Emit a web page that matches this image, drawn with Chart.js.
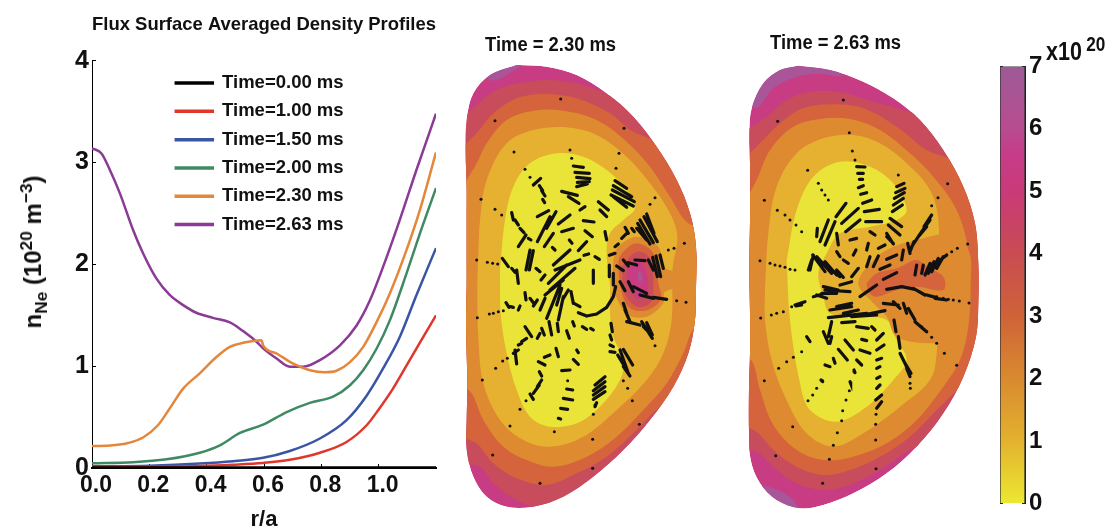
<!DOCTYPE html>
<html>
<head>
<meta charset="utf-8">
<title>Flux Surface Averaged Density Profiles</title>
<script src="https://cdn.jsdelivr.net/npm/chart.js@4/dist/chart.umd.min.js"></script>
<style>
  html, body { margin: 0; padding: 0; background: #fff; }
  body { position: relative; width: 1112px; height: 528px; overflow: hidden; }
  canvas { position: absolute; }
  .txt { position: absolute; white-space: nowrap; color: #111; font-family: "Liberation Sans", sans-serif; font-weight: bold; transform-origin: left center; }
  .txt sub, .txt sup { font-size: 72%; line-height: 0; }
</style>
</head>
<body>
<canvas id="profiles" width="450" height="528" style="left:0;top:0"></canvas>
<canvas id="shot230" width="260" height="500" style="left:450px;top:20px"></canvas>
<canvas id="shot263" width="260" height="500" style="left:730px;top:20px"></canvas>
<canvas id="colorbar" width="70" height="480" style="left:985px;top:45px"></canvas>
<div class="txt" style="left:485px;top:33px;font-size:20px;transform:scaleX(.92)">Time = 2.30 ms</div>
<div class="txt" style="left:770px;top:31px;font-size:20px;transform:scaleX(.92)">Time = 2.63 ms</div>
<div class="txt" style="left:1046px;top:37px;font-size:25px;transform:scaleX(.86)">x10<sup style="margin-left:5px;font-size:80%">20</sup></div>
<div class="txt" style="left:33px;top:252px;font-size:24px;transform-origin:center;transform:translate(-50%,-50%) rotate(-90deg)">n<sub>Ne</sub> (10<sup>20</sup> m<sup>−3</sup>)</div>
<script>
const legendNames = ['Time=0.00 ms', 'Time=1.00 ms', 'Time=1.50 ms', 'Time=2.00 ms', 'Time=2.30 ms', 'Time=2.63 ms'];
const lineColors = ['#000000', '#e0372c', '#3b55a5', '#3f8a63', '#e5873a', '#8b3a96'];
const xTicks = [0, 0.2, 0.4, 0.6, 0.8, 1.0];
const yTicks = [0, 1, 2, 3, 4];
const barTicks = [0, 1, 2, 3, 4, 5, 6, 7];

// r/a and density (10^20)
const r000 = [0, 0.3, 0.6, 0.9, 1.2];
const n000 = [0.004, 0.004, 0.004, 0.004, 0.004];
const r100 = [0, 0.376, 0.492, 0.597, 0.69, 0.795, 0.888, 0.958, 1.0, 1.05, 1.1, 1.15, 1.2];
const n100 = [0.007, 0.02, 0.033, 0.05, 0.08, 0.15, 0.256, 0.42, 0.575, 0.78, 1.02, 1.26, 1.50];
const r150 = [0, 0.2, 0.376, 0.492, 0.597, 0.69, 0.795, 0.888, 0.958, 1.016, 1.074, 1.132, 1.2];
const n150 = [0.016, 0.023, 0.043, 0.066, 0.10, 0.167, 0.29, 0.47, 0.71, 0.98, 1.29, 1.70, 2.16];
const r200 = [0, 0.143, 0.26, 0.376, 0.446, 0.516, 0.597, 0.679, 0.76, 0.841, 0.90, 0.946, 0.993, 1.039, 1.097, 1.144, 1.2];
const n200 = [0.046, 0.056, 0.085, 0.15, 0.223, 0.344, 0.426, 0.55, 0.64, 0.70, 0.813, 0.96, 1.174, 1.45, 1.91, 2.305, 2.75];
const r230 = [0, 0.073, 0.126, 0.178, 0.23, 0.271, 0.318, 0.376, 0.434, 0.481, 0.527, 0.591, 0.597, 0.644, 0.702, 0.76, 0.812, 0.853, 0.90, 0.946, 0.993, 1.039, 1.097, 1.144, 1.2];
const n230 = [0.215, 0.223, 0.246, 0.30, 0.42, 0.585, 0.78, 0.93, 1.09, 1.19, 1.23, 1.255, 1.205, 1.125, 1.025, 0.96, 0.94, 0.955, 1.04, 1.19, 1.435, 1.715, 2.14, 2.535, 3.10];
const r263 = [0, 0.033, 0.062, 0.097, 0.143, 0.178, 0.225, 0.271, 0.318, 0.364, 0.422, 0.481, 0.527, 0.574, 0.597, 0.644, 0.69, 0.737, 0.795, 0.865, 0.923, 0.97, 1.016, 1.074, 1.132, 1.2];
const n263 = [3.14, 3.09, 2.93, 2.70, 2.34, 2.11, 1.86, 1.70, 1.60, 1.525, 1.475, 1.43, 1.345, 1.24, 1.175, 1.075, 0.995, 0.995, 1.06, 1.205, 1.40, 1.65, 1.98, 2.44, 2.93, 3.48];

// contour level colours, 0 upward
const levelColors = ['#e9e437', '#e6b130', '#dd8a30', '#d5633c', '#c94c5c', '#c73c82', '#a8559a'];

// 2.30 ms: contour bands, outermost first, [R, Z] in picture units. a5 is the plasma edge, the rest get clipped to it
const a5 = [[200,135],[290,140],[380,165],[470,220],[550,290],[620,380],[680,480],[720,580],[738,680],[738,800],[735,900],[715,1000],[670,1100],[600,1200],[520,1290],[430,1370],[340,1430],[250,1460],[170,1460],[110,1430],[70,1370],[50,1290],[50,1200],[52,1100],[50,1000],[48,900],[50,800],[50,700],[50,600],[50,500],[47,400],[50,300],[70,220],[120,165],[200,135]];
const a6 = [[100,165],[170,125],[225,125],[190,152],[130,182],[100,165]];
const a4 = [[20,310],[90,245],[150,205],[210,188],[300,180],[400,195],[470,222],[560,270],[700,450],[790,700],[790,900],[700,1150],[500,1340],[300,1465],[200,1440],[130,1390],[90,1340],[20,1320],[0,800],[20,310]];
const a3 = [[20,400],[80,340],[130,280],[200,235],[280,222],[380,235],[480,280],[540,330],[620,370],[720,500],[800,700],[800,900],[720,1100],[625,1165],[560,1230],[470,1310],[380,1360],[290,1395],[200,1375],[130,1330],[80,1270],[20,1235],[0,800],[20,400]];
const a2 = [[20,530],[80,430],[110,370],[170,300],[250,272],[340,272],[440,300],[530,365],[600,440],[660,530],[715,610],[800,640],[800,900],[733,925],[700,1000],[650,1090],[580,1170],[500,1250],[410,1310],[310,1340],[230,1320],[160,1280],[100,1200],[65,1120],[20,1075],[0,800],[20,530]];
const a1 = [[85,700],[90,600],[110,480],[170,370],[250,330],[350,322],[440,345],[530,410],[600,490],[660,580],[682,650],[668,745],[665,900],[640,1000],[590,1080],[500,1170],[400,1250],[300,1280],[220,1260],[150,1200],[100,1090],[85,950],[82,800],[85,700]];
const a0 = [[150,750],[165,600],[190,500],[240,430],[320,400],[400,410],[470,450],[530,510],[555,565],[520,600],[480,640],[470,700],[480,800],[480,880],[490,950],[520,1020],[510,1080],[450,1160],[380,1210],[300,1220],[240,1190],[200,1110],[170,1000],[152,880],[150,750]];
const aBlob2 = [[490,720],[505,680],[560,650],[625,680],[645,745],[760,760],[760,785],[645,815],[640,850],[590,890],[530,882],[490,800],[490,720]];
const aBlob3 = [[505,720],[520,695],[560,670],[610,700],[625,790],[632,840],[585,872],[535,860],[510,790],[505,720]];
const aBlob4 = [[515,740],[560,695],[600,715],[610,800],[600,850],[560,860],[525,820],[515,740]];
const aBlob5 = [[530,745],[570,725],[590,760],[590,825],[560,835],[535,790],[530,745]];
const aBlob6 = [[562,775],[568,752],[578,775],[570,785],[562,775]];

// 2.63 ms: same bands
const b5 = [[205,137],[300,150],[400,185],[490,235],[570,300],[640,390],[700,500],[735,610],[745,730],[745,850],[738,950],[700,1070],[640,1180],[560,1280],[470,1360],[370,1420],[280,1455],[210,1465],[140,1440],[90,1390],[62,1320],[57,1240],[57,1100],[60,1000],[60,880],[58,740],[60,600],[60,430],[58,340],[65,265],[100,190],[150,150],[205,137]];
const b6top = [[50,258],[90,180],[150,130],[280,130],[335,168],[270,162],[200,170],[130,205],[85,262],[50,258]];
const b6bottom = [[80,1395],[140,1460],[210,1490],[190,1440],[130,1405],[80,1395]];
const b4 = [[20,350],[110,290],[170,240],[240,215],[340,218],[430,245],[500,265],[590,300],[720,480],[800,700],[800,950],[700,1150],[600,1260],[540,1290],[450,1350],[360,1395],[280,1410],[190,1385],[130,1340],[80,1295],[20,1285],[0,800],[20,350]];
const b3 = [[20,440],[90,370],[150,310],[220,265],[310,253],[400,265],[500,320],[590,390],[680,430],[780,560],[800,800],[780,1000],[700,1090],[620,1170],[540,1250],[450,1310],[360,1350],[280,1365],[200,1340],[130,1290],[85,1240],[20,1190],[0,800],[20,440]];
const b2 = [[20,590],[80,480],[120,390],[190,320],[270,297],[360,297],[450,330],[540,400],[610,470],[680,570],[715,690],[722,800],[715,920],[690,1020],[640,1100],[560,1200],[470,1270],[370,1310],[280,1320],[200,1290],[130,1215],[90,1110],[63,1020],[20,1025],[0,800],[20,590]];
const b1 = [[105,800],[115,640],[140,500],[200,400],[280,355],[370,345],[450,370],[530,430],[600,510],[625,600],[625,800],[620,1000],[600,1080],[510,1160],[400,1240],[310,1280],[230,1240],[165,1130],[125,1020],[105,900],[105,800]];
const b0 = [[170,720],[200,570],[250,470],[330,425],[420,440],[490,490],[530,570],[500,600],[420,620],[330,640],[290,700],[265,760],[280,830],[300,880],[380,890],[470,900],[500,960],[530,1020],[490,1080],[410,1160],[320,1205],[240,1170],[210,1090],[180,900],[170,720]];
const bTongue = [[640,640],[560,660],[490,680],[430,720],[385,790],[430,850],[470,890],[500,950],[610,970],[700,950],[720,800],[715,690],[640,640]];
const bBlob3 = [[410,790],[440,760],[500,745],[560,720],[590,740],[640,770],[640,810],[560,800],[500,810],[440,830],[415,815],[410,790]];

// small field markers and velocity arrows [x1, y1, x2, y2]
const aDots = [[332,237],[135,302],[522,325],[192,396],[360,390],[507,400],[225,448],[93,538],[615,533],[703,670],[672,685],[80,720],[708,847],[680,842],[82,893],[118,882],[615,977],[137,1045],[97,1080],[533,1105],[547,1142],[210,1168],[430,1183],[180,1218],[568,1213],[313,1235],[428,1258],[128,1305],[428,1345],[270,1390],[155,585],[135,568],[240,472],[365,415],[498,445],[600,553],[655,690],[112,727],[128,730],[143,732],[130,880],[145,875],[160,872],[172,1015],[158,1023],[228,1142],[353,1082],[520,1082],[435,1155]];
const aArrows = [[370,438,400,442],[375,457,418,460],[380,472,420,476],[382,487,418,485],[380,500,412,492],[495,482,530,505],[490,497,545,530],[487,510,553,545],[483,525,550,558],[490,530,530,562],[590,582,612,640],[582,590,622,665],[570,600,610,668],[563,610,600,672],[560,625,590,660],[630,705,640,745],[618,708,632,770],[608,712,622,770],[595,720,610,750],[520,720,535,738],[535,728,560,735],[555,720,585,722],[500,738,520,752],[510,785,525,812],[535,785,550,815],[550,800,590,820],[570,825,610,835],[610,832,650,838],[157,715,175,740],[185,745,195,757],[200,750,205,790],[272,475,250,495],[268,497,278,512],[275,512,285,528],[278,538,284,548],[262,590,296,572],[335,514,382,526],[355,530,387,550],[445,545,475,570],[450,570,470,590],[390,570,405,560],[300,590,262,665],[318,575,290,625],[310,640,283,680],[360,585,325,612],[370,625,335,635],[400,602,432,606],[405,632,427,650],[358,660,366,670],[410,665,385,692],[307,682,315,690],[465,635,470,660],[235,655,243,660],[228,645,205,680],[240,690,228,750],[250,692,238,750],[185,578,190,600],[195,600,205,615],[210,625,222,638],[258,745,270,755],[285,765,273,780],[360,690,310,735],[390,720,315,750],[350,735,295,790],[375,745,300,810],[340,780,285,825],[330,795,290,895],[335,805,320,855],[340,830,325,900],[355,810,340,835],[225,818,228,840],[240,835,250,848],[262,840,250,858],[285,835,270,870],[210,858,205,870],[168,848,177,862],[182,860,190,862],[363,815,370,850],[372,850,390,860],[385,878,410,888],[410,888,440,882],[440,882,470,862],[470,862,490,830],[490,830,497,800],[430,750,430,790],[402,706,416,702],[435,710,448,718],[478,706,495,700],[478,735,478,770],[490,760,490,795],[495,680,505,672],[515,655,530,640],[525,622,535,640],[545,625,553,635],[520,850,530,880],[525,870,540,905],[530,905,570,915],[575,905,607,955],[590,908,607,945],[580,920,600,940],[510,990,535,1060],[520,988,548,1035],[503,1005,530,1050],[520,1040,540,1068],[483,910,487,935],[480,945,485,960],[480,975,490,980],[480,995,495,997],[225,920,245,950],[262,955,270,940],[275,925,283,945],[297,905,305,945],[322,910,325,935],[350,932,358,955],[368,905,373,918],[397,920,410,928],[422,925,430,930],[230,955,215,965],[215,970,205,975],[195,990,200,1032],[190,1000,205,990],[265,1025,285,1035],[283,1012,300,1005],[318,985,325,1010],[380,990,385,998],[370,1018,385,1033],[335,1052,360,1050],[350,1107,368,1110],[340,1135,368,1140],[332,1165,353,1168],[325,1195,332,1197],[268,1055,275,1068],[275,1080,262,1100],[268,1095,250,1120],[240,1122,250,1138],[465,1070,435,1095],[465,1085,430,1112],[465,1100,430,1125],[465,1115,430,1138],[440,1148,435,1160]];
const bDots = [[340,240],[143,304],[358,338],[367,393],[653,491],[624,533],[233,451],[103,541],[142,571],[713,672],[682,685],[90,722],[717,849],[688,843],[92,894],[124,885],[643,1000],[680,1036],[146,1045],[103,1082],[541,1105],[234,1142],[188,1220],[438,1183],[437,1213],[322,1238],[437,1260],[310,1276],[137,1307],[298,1318],[438,1346],[278,1390],[338,1172],[335,1202],[348,1140],[358,1112],[372,1055],[278,1082],[260,1105],[248,1125],[375,420],[265,490],[275,510],[285,525],[295,540],[165,585],[180,600],[198,615],[215,635],[120,730],[135,735],[150,738],[165,742],[180,748],[195,750],[140,880],[160,875],[185,860],[170,1025],[190,1012],[215,995],[620,970],[605,952],[590,935],[575,920],[540,1090],[505,465],[605,557],[665,695],[650,705],[670,840],[655,838],[640,835],[620,830]];
const bArrows = [[380,440,405,441],[383,460,400,460],[388,478,398,478],[385,503,400,497],[392,523,410,518],[398,550,425,540],[403,575,448,568],[407,605,455,605],[500,500,522,490],[497,518,525,505],[493,535,523,518],[490,555,520,535],[487,575,517,555],[480,595,515,620],[475,615,510,645],[470,640,490,672],[605,585,582,620],[600,600,575,635],[590,620,565,650],[575,635,555,665],[565,650,545,680],[552,665,540,695],[533,670,540,700],[520,690,515,720],[650,705,625,725],[640,710,620,745],[625,715,605,755],[612,725,595,760],[600,730,585,765],[580,735,575,760],[560,735,555,765],[470,808,515,800],[515,800,555,808],[550,805,585,825],[590,825,620,833],[615,835,650,840],[500,705,470,718],[480,735,450,748],[500,758,460,778],[440,795,390,830],[460,850,505,855],[490,845,510,865],[520,850,530,880],[535,865,555,900],[555,905,590,935],[492,900,498,935],[505,950,510,985],[510,1000,530,1040],[525,1030,543,1060],[530,1045,540,1070],[465,872,400,885],[440,885,365,890],[410,880,295,893],[375,905,335,908],[380,920,415,925],[425,920,435,930],[460,940,440,960],[462,975,440,990],[455,1015,440,1020],[450,1040,440,1045],[450,1070,440,1075],[450,1095,440,1105],[455,1125,437,1140],[455,1145,440,1165],[420,635,435,645],[360,660,380,655],[415,670,410,690],[470,650,490,670],[445,685,465,675],[378,690,370,705],[340,720,355,730],[420,710,410,740],[445,708,430,740],[385,745,365,770],[365,785,330,795],[320,750,340,772],[300,745,330,770],[285,725,320,765],[260,710,305,760],[248,705,285,755],[250,705,240,750],[245,720,235,750],[262,625,260,650],[295,600,270,665],[315,605,285,675],[320,640,325,675],[348,550,318,590],[385,565,335,610],[390,600,347,635],[320,695,330,710],[280,800,325,810],[285,810,360,815],[275,820,320,820],[260,825,290,835],[250,830,300,815],[320,860,365,850],[300,870,365,860],[340,880,385,870],[225,845,195,855],[215,855,198,858],[305,905,295,950],[280,935,295,970],[305,950,300,970],[230,950,240,965],[345,960,370,990],[325,988,352,1020],[395,958,410,962],[390,990,420,1000],[380,1020,395,1035],[310,1015,315,1030],[285,1035,300,1040],[372,1050,375,1058],[360,1085,362,1090],[273,1080,278,1085]];

Chart.defaults.font.family = '"Liberation Sans", sans-serif';
Chart.defaults.font.weight = 'bold';
Chart.defaults.color = '#111';
Chart.defaults.animation = false;

/* Density profiles */
const rows = [[r000, n000], [r100, n100], [r150, n150], [r200, n200], [r230, n230], [r263, n263]];
const moveLegend = {
  id: 'moveLegend',
  afterLayout(chart) {
    chart.legend.left = 166;
    chart.legend.top = 64;
    chart.legend.right = 430;
    chart.legend.bottom = 260;
  },
};
new Chart(document.getElementById('profiles'), {
  type: 'scatter',
  plugins: [moveLegend],
  data: {
    datasets: rows.map((row, i) => ({
      label: legendNames[i],
      data: row[0].map((r, k) => ({ x: r, y: row[1][k] })),
      showLine: true,
      borderColor: lineColors[i],
      backgroundColor: lineColors[i],
      borderWidth: 2.5,
      pointRadius: 0,
      cubicInterpolationMode: 'monotone',
    })),
  },
  options: {
    responsive: false,
    layout: { padding: { right: 14 } },
    plugins: {
      title: {
        display: true,
        text: 'Flux Surface Averaged Density Profiles',
        fullSize: false,
        color: '#111',
        font: { size: 19, weight: 'bold' },
        padding: { top: 13, bottom: 25 },
      },
      legend: {
        position: 'chartArea',
        align: 'start',
        labels: { boxWidth: 37, boxHeight: 1, padding: 9.8, color: '#111', font: { size: 18.5, weight: 'bold' } },
      },
      tooltip: { enabled: false },
    },
    scales: {
      x: {
        type: 'linear',
        min: 0,
        max: 1.2,
        afterBuildTicks: (scale) => { scale.ticks = xTicks.map((v) => ({ value: v })); },
        afterFit: (scale) => { scale.height = 60; },
        grid: { drawOnChartArea: false, tickLength: -4, color: '#000' },
        border: { color: '#000', width: 2 },
        title: { display: true, text: 'r/a', color: '#111', font: { size: 22, weight: 'bold' }, padding: { top: 0, bottom: -5 } },
        ticks: { color: '#111', padding: 8, labelOffset: 4, maxRotation: 0, font: { size: 23, weight: 'bold' }, callback: (v) => v.toFixed(1) },
      },
      y: {
        min: 0,
        max: 4,
        afterBuildTicks: (scale) => { scale.ticks = yTicks.map((v) => ({ value: v })); },
        afterFit: (scale) => { scale.width = 92; },
        grid: { drawOnChartArea: false, tickLength: -4, color: '#000' },
        border: { color: '#000', width: 1 },
        ticks: { color: '#111', padding: 7, font: { size: 25, weight: 'bold' } },
      },
    },
  },
});

/* Poloidal density maps */
function band(points, color) {
  return {
    data: points.map((p) => ({ x: p[0], y: p[1] })),
    showLine: true,
    fill: 'shape',
    tension: 0.35,
    borderWidth: 0,
    borderColor: 'rgba(0,0,0,0)',
    backgroundColor: color,
    pointRadius: 0,
  };
}
function arrowSet(arrows) {
  const pts = [];
  arrows.forEach((a) => {
    pts.push({ x: a[0], y: a[1] }, { x: a[2], y: a[3] }, { x: null, y: null });
  });
  return { data: pts, showLine: true, borderColor: '#111', borderWidth: 3.2, borderCapStyle: 'round', pointRadius: 0 };
}
function dotSet(dots) {
  return { data: dots.map((d) => ({ x: d[0], y: d[1] })), pointRadius: 1.5, pointBorderWidth: 0, backgroundColor: '#111' };
}
// keep every band inside the plasma edge (last dataset)
const edgeClip = {
  id: 'edgeClip',
  beforeDatasetsDraw(chart) {
    const edge = chart.getDatasetMeta(chart.data.datasets.length - 1).dataset;
    chart.ctx.save();
    chart.ctx.beginPath();
    edge.path(chart.ctx);
    chart.ctx.clip();
  },
  afterDatasetsDraw(chart) {
    chart.ctx.restore();
  },
};
function mapChart(id, bands, dots, arrows) {
  new Chart(document.getElementById(id), {
    type: 'scatter',
    plugins: [edgeClip],
    data: {
      // first dataset ends up on top
      datasets: [dotSet(dots), arrowSet(arrows)].concat(bands.slice().reverse().map((b) => band(b[0], levelColors[b[1]]))),
    },
    options: {
      responsive: false,
      layout: { autoPadding: false },
      plugins: { legend: { display: false }, tooltip: { enabled: false }, filler: { drawTime: 'beforeDatasetDraw' } },
      scales: {
        x: { display: false, min: 0, max: 780 },
        y: { display: false, min: 0, max: 1500, reverse: true },
      },
    },
  });
}
mapChart('shot230', [[a5, 5], [a6, 6], [a4, 4], [a3, 3], [a2, 2], [a1, 1], [a0, 0], [aBlob2, 2], [aBlob3, 3], [aBlob4, 4], [aBlob5, 5], [aBlob6, 6]], aDots, aArrows);
mapChart('shot263', [[b5, 5], [b6top, 6], [b6bottom, 6], [b4, 4], [b3, 3], [b2, 2], [b1, 1], [b0, 0], [bTongue, 2], [bBlob3, 3]], bDots, bArrows);

/* Colour bar */
const barStops = [[0, '#ece832'], [1, '#e3b22e'], [2, '#d98a2f'], [3, '#cf6338'], [4, '#c94c52'], [5, '#c83a78'], [5.6, '#c63c88'], [6, '#b84c90'], [7, '#9d5a96']];
new Chart(document.getElementById('colorbar'), {
  type: 'bar',
  data: {
    labels: ['n'],
    datasets: [{
      data: [[0, 7]],
      barPercentage: 1,
      categoryPercentage: 1,
      borderColor: '#333',
      borderWidth: 1,
      backgroundColor: (ctx) => {
        const area = ctx.chart.chartArea;
        if (!area) return barStops[0][1];
        const g = ctx.chart.ctx.createLinearGradient(0, area.bottom, 0, area.top);
        barStops.forEach((s) => g.addColorStop(s[0] / 7, s[1]));
        return g;
      },
    }],
  },
  options: {
    responsive: false,
    layout: { autoPadding: false, padding: { left: 14, top: 20, bottom: 17 } },
    plugins: { legend: { display: false }, tooltip: { enabled: false } },
    scales: {
      x: { display: false },
      y: {
        position: 'right',
        min: 0,
        max: 7,
        afterBuildTicks: (scale) => { scale.ticks = barTicks.map((v) => ({ value: v })); },
        afterFit: (scale) => { scale.width = 30; },
        grid: { drawOnChartArea: false, tickLength: -3, color: '#222' },
        border: { color: '#222', width: 1 },
        ticks: { color: '#111', padding: 7, font: { size: 24, weight: 'bold' } },
      },
      yLeft: {
        position: 'left',
        min: 0,
        max: 7,
        afterBuildTicks: (scale) => { scale.ticks = barTicks.map((v) => ({ value: v })); },
        afterFit: (scale) => { scale.width = 1; },
        grid: { drawOnChartArea: false, tickLength: -3, color: '#222' },
        border: { color: '#222', width: 1 },
        ticks: { display: false },
      },
    },
  },
});
</script>
</body>
</html>
